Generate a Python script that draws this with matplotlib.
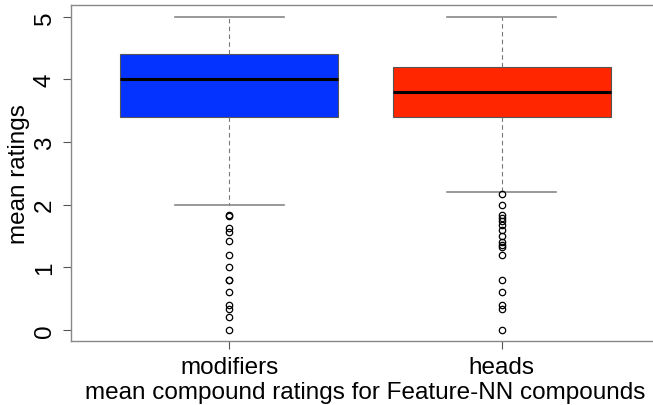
import matplotlib
matplotlib.use("Agg")
import matplotlib.pyplot as plt

# box statistics
groups = ["modifiers", "heads"]
q1 = [3.4, 3.4]
medians = [4.0, 3.8]
q3 = [4.4, 4.2]
whisker_low = [2.0, 2.2]
whisker_high = [5.0, 5.0]
fliers_mod = [1.83, 1.81, 1.62, 1.57, 1.42, 1.2, 1.0, 0.8, 0.8, 0.6, 0.4, 0.33, 0.2, 0.0]
fliers_heads = [2.17, 2.0, 1.83, 1.78, 1.73, 1.67, 1.6, 1.5, 1.4, 1.36, 1.33, 1.2,
                0.8, 0.6, 0.4, 0.33, 0.0]
box_colors = ["#0433FF", "#FF2600"]

plt.rcParams['font.family'] = ['Liberation Sans', 'DejaVu Sans']
fs = 17.5

fig = plt.figure(figsize=(6.53, 4.06), dpi=100)
ax = fig.add_axes([71 / 653, 64 / 406, 589 / 653, 336 / 406])

stats = []
for i, name in enumerate(groups):
    stats.append({
        "label": name,
        "q1": q1[i], "med": medians[i], "q3": q3[i],
        "whislo": whisker_low[i], "whishi": whisker_high[i],
        "fliers": [fliers_mod, fliers_heads][i],
    })

bp = ax.bxp(stats, positions=[1, 2], widths=0.8, patch_artist=True,
            boxprops=dict(edgecolor="#555555", linewidth=0.8),
            medianprops=dict(color="black", linewidth=2.2),
            whiskerprops=dict(color="#777777", linewidth=0.8, linestyle=(0, (4, 3))),
            capprops=dict(color="#888888", linewidth=1.2),
            flierprops=dict(marker="o", markerfacecolor="none", markeredgecolor="black",
                            markersize=4.6, markeredgewidth=0.9))
for cap in bp["caps"]:
    x = cap.get_xdata()
    c = (x[0] + x[1]) / 2
    cap.set_xdata([c - 0.2, c + 0.2])
for patch, col in zip(bp["boxes"], box_colors):
    patch.set_facecolor(col)

ax.set_xlim(0.42, 2.58)
ax.set_ylim(-0.18, 5.19)
ax.set_yticks([0, 1, 2, 3, 4, 5])
ax.set_yticklabels(["0", "1", "2", "3", "4", "5"], rotation=90, va="center", fontsize=fs)
ax.set_xticks([1, 2])
ax.set_xticklabels(groups, fontsize=fs)
ax.tick_params(axis="both", length=6, width=0.8, color="#555555", pad=5)
for s in ax.spines.values():
    s.set_color("#888888")
    s.set_linewidth(1.0)
ax.spines["right"].set_visible(False)

ax.set_ylabel("mean ratings", fontsize=fs, labelpad=3)
ax.set_xlabel("mean compound ratings for Feature-NN compounds", fontsize=fs, labelpad=2)

fig.savefig("out.png", dpi=100)
